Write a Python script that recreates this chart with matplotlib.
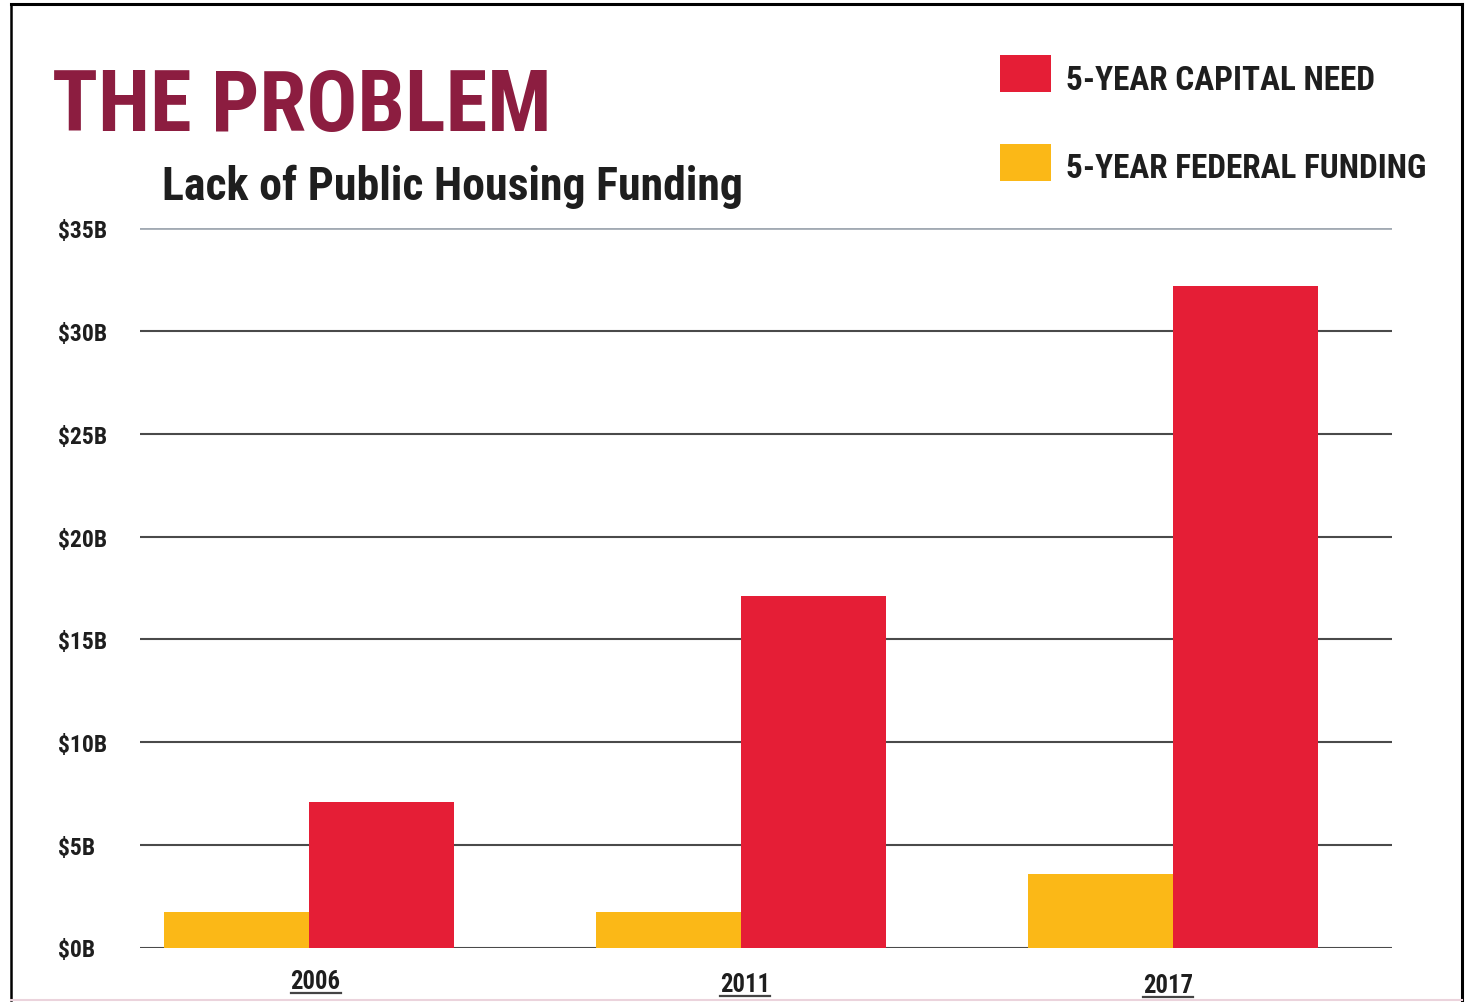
import matplotlib
matplotlib.use("Agg")
import matplotlib.pyplot as plt
from matplotlib import font_manager
from matplotlib.lines import Line2D
from matplotlib.patches import Rectangle
import numpy as np

# ---- data ----
years = ["2006", "2011", "2017"]
capital_need = [7.1, 17.1, 32.2]      # $ billions, 5-year capital need
federal_funding = [1.75, 1.75, 3.6]   # $ billions, 5-year federal funding
y_ticks = [0, 5, 10, 15, 20, 25, 30, 35]
y_tick_labels = ["$0B", "$5B", "$10B", "$15B", "$20B", "$25B", "$30B", "$35B"]
legend_labels = ["5-YEAR CAPITAL NEED", "5-YEAR FEDERAL FUNDING"]
title_text = "THE PROBLEM"
subtitle_text = "Lack of Public Housing Funding"

RED = "#E51E36"
YELLOW = "#FBB817"
MAROON = "#8C1D40"
TEXT = "#1E1E1E"

available = {f.name for f in font_manager.fontManager.ttflist}
FONT = "DejaVu Sans"
for cand in ["Roboto Condensed", "Archivo Narrow", "PT Sans Narrow",
             "IBM Plex Sans Condensed", "Open Sans Condensed"]:
    if cand in available:
        FONT = cand
        break
plt.rcParams["font.family"] = [FONT, "DejaVu Sans"]

W, H = 1471, 1003
fig = plt.figure(figsize=(W / 100, H / 100), dpi=100)
fig.patch.set_facecolor("white")
fig.canvas.draw()
renderer = fig.canvas.get_renderer()


def fx(px):
    return px / W


def fy(py):
    return 1 - py / H


def fit_size(s, width_px, weight="bold"):
    """Font size (pt) giving the requested rendered width."""
    t = fig.text(0, 0, s, fontsize=20, fontweight=weight)
    w = t.get_window_extent(renderer).width
    t.remove()
    return 20 * width_px / w


ax = fig.add_axes([fx(140), fy(948.5), fx(1392) - fx(140), fy(229.25) - fy(948.5)])

x = np.arange(len(years))
bw = 0.335
ax.bar(x - bw / 2, federal_funding, width=bw, color=YELLOW, zorder=3, linewidth=0)
ax.bar(x + bw / 2, capital_need, width=bw, color=RED, zorder=3, linewidth=0)

ax.set_xlim(-0.391, 2.507)
ax.set_ylim(0, 35)
ax.set_yticks(y_ticks)
ax.set_yticklabels(y_tick_labels)
ax.set_xticks([])
tick_fs = fit_size("$30B", 49)
ax.tick_params(axis="y", length=0, pad=59, labelsize=tick_fs, labelcolor=TEXT)
for lab in ax.get_yticklabels():
    lab.set_fontweight("bold")
    lab.set_horizontalalignment("left")
for s in ax.spines.values():
    s.set_visible(False)

ax.set_axisbelow(True)
ax.yaxis.grid(True, color="#4A4A4A", linewidth=1.5)
gl = ax.get_ygridlines()
gl[-1].set_color("#A2AAB3")
gl[-1].set_linewidth(2.0)
ax.patch.set_visible(False)

# year labels with underline
year_fs = fit_size("2006", 50)
label_offsets = [(7, 982), (3, 985), (-5, 986)]
year_centers_px = [308.5, 742, 1173]
for yr, cx, (dx, ypx) in zip(years, year_centers_px, label_offsets):
    t = fig.text(fx(cx + dx), fy(ypx), yr, ha="center", va="center",
                 fontsize=year_fs, fontweight="bold", color=TEXT)
    bb = t.get_window_extent(renderer)
    uy = fy(ypx + 12)
    fig.add_artist(Line2D([bb.x0 / W, bb.x1 / W], [uy, uy], color="#444444",
                          linewidth=1.6, transform=fig.transFigure))

# title and subtitle
fig.text(fx(52), fy(107), title_text, ha="left", va="center",
         fontsize=fit_size(title_text, 500), fontweight="bold", color=MAROON)
fig.text(fx(162), fy(187), subtitle_text, ha="left", va="center",
         fontsize=fit_size(subtitle_text, 581), fontweight="bold", color=TEXT)

# legend
leg_fs = fit_size(legend_labels[1], 361)
for (top, bot), label, col in zip([(56, 93), (145, 182)], legend_labels, [RED, YELLOW]):
    fig.add_artist(Rectangle((fx(1000), fy(bot)), fx(1051) - fx(1000), fy(top) - fy(bot),
                             facecolor=col, edgecolor="none", transform=fig.transFigure))
    fig.text(fx(1066), fy((top + bot) / 2 + 6), label, ha="left", va="center",
             fontsize=leg_fs, fontweight="bold", color=TEXT)

# page frame
frame = [
    ([fx(11), fx(1462)], [fy(5), fy(5)], "black", 2.2),
    ([fx(11), fx(11)], [fy(5), fy(1001)], "black", 1.8),
    ([fx(1461.5), fx(1461.5)], [fy(5), fy(1001)], "black", 2.2),
    ([fx(11), fx(1462)], [fy(1001), fy(1001)], "#EBD3DC", 1.5),
]
for xs, ys, c, lw in frame:
    fig.add_artist(Line2D(xs, ys, color=c, linewidth=lw, transform=fig.transFigure))

fig.savefig("out.png", dpi=100, facecolor="white")
